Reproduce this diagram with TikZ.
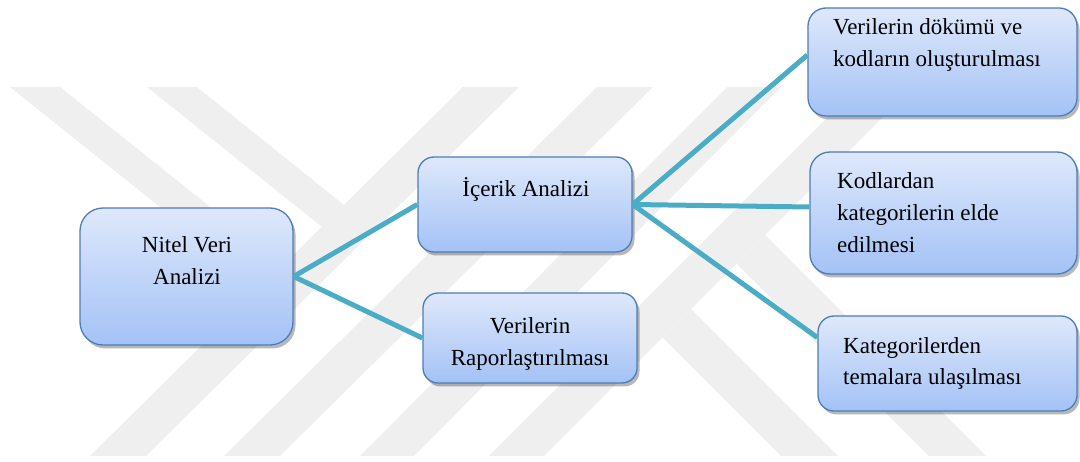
\documentclass[tikz,border=0pt]{standalone}
\usepackage{fontspec}
\setmainfont{Liberation Serif}
\usetikzlibrary{shadows}

\definecolor{wmgray}{RGB}{239,239,239}
\definecolor{boxline}{RGB}{74,126,187}
\definecolor{gradtop}{RGB}{222,232,251}
\definecolor{gradbot}{RGB}{164,194,246}
\definecolor{linkteal}{RGB}{75,172,198}

\tikzset{
  wm/.style={fill=wmgray, draw=none},
  box/.style={rectangle, draw=boxline, line width=1.3pt,
    top color=gradtop, bottom color=gradbot, inner sep=0pt,
    drop shadow={shadow xshift=2.5pt, shadow yshift=-3.5pt, opacity=0.28, fill=black}},
  lbl/.style={inner sep=0pt, font={\fontsize{23}{32}\selectfont}},
  conn/.style={draw=linkteal, line width=5pt}
}

\begin{document}
\begin{tikzpicture}[x=1pt, y=-1pt]
\useasboundingbox (0,0) rectangle (1080,462);

% faint background stripes
\fill[wm] (10,87) -- (60,87) -- (283,265) -- (260.5,287.4) -- cycle;
\fill[wm] (147,87) -- (197,87) -- (344,205) -- (322,227) -- cycle;
\fill[wm] (463,87) -- (519,87) -- (146,456) -- (90,456) -- cycle;
\fill[wm] (597,87) -- (653,87) -- (280,456) -- (224,456) -- cycle;
\fill[wm] (727,87) -- (781,87) -- (414,456) -- (360,456) -- cycle;
\fill[wm] (858,87) -- (913,87) -- (544,456) -- (489,456) -- cycle;
\fill[wm] (781,456) -- (838,456) -- (691,309) -- (662.5,337.5) -- cycle;
\fill[wm] (929,456) -- (986,456) -- (765,235) -- (736.5,263.5) -- cycle;

% boxes
\node[box, rounded corners=23pt, minimum width=213pt, minimum height=137pt] (N)  at (186.5,276.5) {};
\node[box, rounded corners=16pt, minimum width=214pt, minimum height=95pt]  (I)  at (525,204.5) {};
\node[box, rounded corners=15pt, minimum width=214pt, minimum height=90pt]  (R)  at (530,338) {};
\node[box, rounded corners=18pt, minimum width=269pt, minimum height=108pt] (D1) at (942.5,62) {};
\node[box, rounded corners=20pt, minimum width=267pt, minimum height=122pt] (D2) at (943.5,213) {};
\node[box, rounded corners=16pt, minimum width=259pt, minimum height=95pt]  (D3) at (947.5,363.5) {};

% connectors
\draw[conn] (N.east) -- (I.west);
\draw[conn] (N.east) -- (R.west);
\draw[conn] (I.east) -- ([yshift=7pt]D1.west);
\draw[conn] (I.east) -- ([yshift=6pt]D2.west);
\draw[conn] (I.east) -- ([yshift=26pt]D3.west);

% labels (base anchor sits on the last line)
\node[lbl, align=center, anchor=base] (tN) at (187,285) {Nitel Veri\\Analizi};
\node[lbl, align=center, anchor=base] (tI) at (526,197) {İçerik Analizi};
\node[lbl, align=center, anchor=base] (tR) at (530,366) {Verilerin\\Raporlaştırılması};
\node[lbl, align=left, anchor=base west] (t1) at (833,67)  {Verilerin dökümü ve\\kodların oluşturulması};
\node[lbl, align=left, anchor=base west] (t2) at (837,253) {Kodlardan\\kategorilerin elde\\edilmesi};
\node[lbl, align=left, anchor=base west] (t3) at (843,385) {Kategorilerden\\temalara ulaşılması};
\end{tikzpicture}
\end{document}
